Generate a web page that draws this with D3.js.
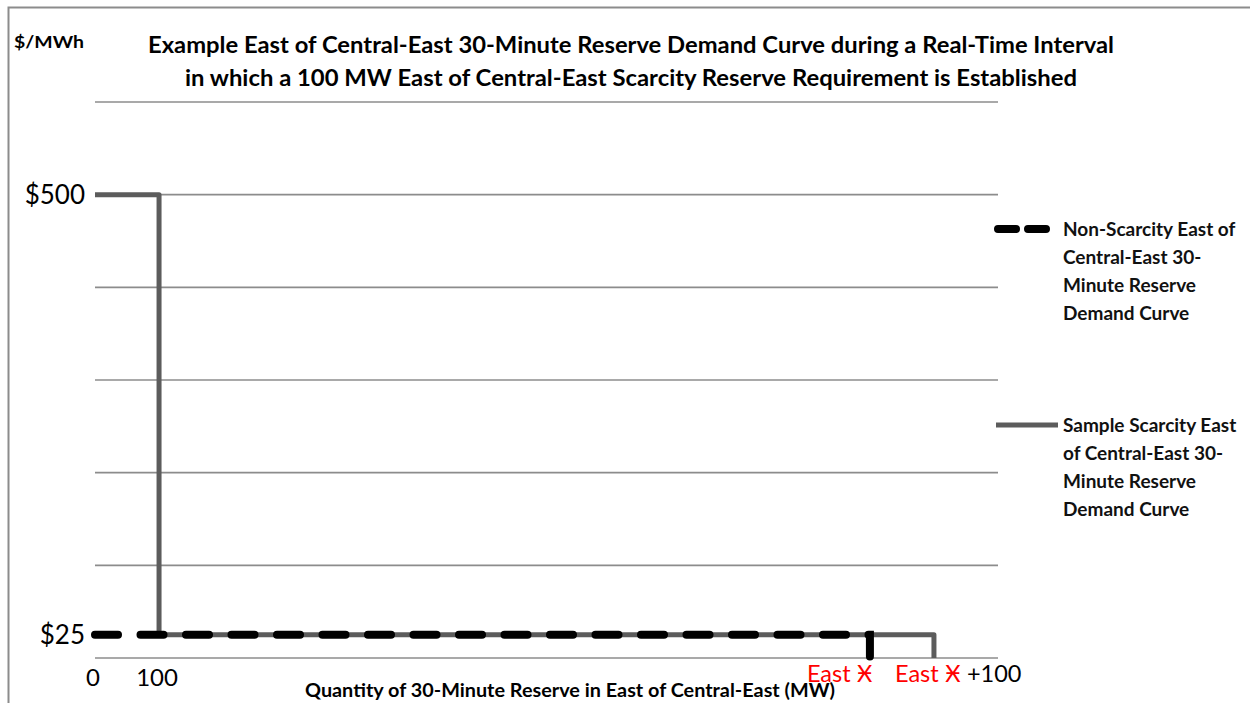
<!DOCTYPE html>
<html lang="en">
<head>
<meta charset="UTF-8">
<title>East of Central-East 30-Minute Reserve Demand Curve</title>
<script src="https://cdn.jsdelivr.net/npm/d3@7"></script>
<style>
  html, body { margin: 0; padding: 0; background: #fff; }
  svg text { font-family: Lato, "Open Sans", "DejaVu Sans", sans-serif; }
</style>
</head>
<body>
<div id="chart"></div>
<script>
// chart values
const gridValues = [0, 100, 200, 300, 400, 500, 600];
const yTickValues = [500, 25];
const yTickLabels = ["$500", "$25"];
const xTickValues = [0, 100];
const eastX = 1210; // quantity where the non-scarcity curve drops (East Ӿ)
const nonScarcityQty = [0, eastX, eastX];
const nonScarcityPrice = [25, 25, 0];
const scarcityQty = [0, 100, 100, eastX + 100, eastX + 100];
const scarcityPrice = [500, 500, 25, 25, 0];
const titleLines = [
  "Example East of Central-East 30-Minute Reserve Demand Curve during a Real-Time Interval",
  "in which a 100 MW East of Central-East  Scarcity Reserve Requirement is Established"
];
const legendNames = [
  ["Non-Scarcity East of", "Central-East 30-", "Minute Reserve", "Demand Curve"],
  ["Sample Scarcity East", "of Central-East 30-", "Minute Reserve", "Demand Curve"]
];

const width = 1250, height = 703;
const svg = d3.select("#chart").append("svg")
  .attr("width", width).attr("height", height);

// outer frame (cropped on right and bottom)
svg.append("rect")
  .attr("x", 8.5).attr("y", 7.5)
  .attr("width", 1300).attr("height", 800)
  .attr("fill", "none").attr("stroke", "#8c8c8c").attr("stroke-width", 2);

const x = d3.scaleLinear().domain([0, 1410]).range([95, 998]);
const y = d3.scaleLinear().domain([0, 600]).range([658, 102]);

// gridlines (incl. the axis line at 0)
svg.append("g").selectAll("line")
  .data(gridValues).enter().append("line")
  .attr("x1", x(0)).attr("x2", x(1410))
  .attr("y1", d => y(d)).attr("y2", d => y(d))
  .attr("stroke", "#8c8c8c").attr("stroke-width", 1.6);

// title
svg.append("g").selectAll("text")
  .data(titleLines).enter().append("text")
  .attr("x", 631).attr("y", (d, i) => 53 + i * 33)
  .attr("text-anchor", "middle")
  .attr("font-size", 23).attr("font-weight", "bold")
  .attr("textLength", (d, i) => i === 0 ? 966 : 892)
  .attr("lengthAdjust", "spacingAndGlyphs")
  .text(d => d);

svg.append("text")
  .attr("x", 14).attr("y", 48)
  .attr("font-size", 17).attr("font-weight", "bold")
  .attr("textLength", 70).attr("lengthAdjust", "spacingAndGlyphs")
  .text("$/MWh");

// y tick labels
svg.append("g").selectAll("text")
  .data(yTickValues).enter().append("text")
  .attr("x", 85).attr("y", d => y(d) + 9)
  .attr("text-anchor", "end")
  .attr("font-size", 26)
  .text((d, i) => yTickLabels[i]);

// x tick labels
svg.append("g").selectAll("text")
  .data(xTickValues).enter().append("text")
  .attr("x", d => x(d) - 2).attr("y", 686)
  .attr("text-anchor", "middle")
  .attr("font-size", 24)
  .text(d => d);

const eastLbl = svg.append("text")
  .attr("x", x(eastX) + 3).attr("y", 682)
  .attr("text-anchor", "end")
  .attr("font-size", 23.5).attr("fill", "#ff0000");
eastLbl.text("East Ӿ");

const eastLbl2 = svg.append("text")
  .attr("x", x(eastX + 100) - 39).attr("y", 682)
  .attr("font-size", 23.5);
eastLbl2.append("tspan").attr("fill", "#ff0000").text("East Ӿ ");
eastLbl2.append("tspan").attr("fill", "#000").text("+100");

// x axis title
svg.append("text")
  .attr("x", 570).attr("y", 697)
  .attr("text-anchor", "middle")
  .attr("font-size", 18).attr("font-weight", "bold")
  .attr("textLength", 530).attr("lengthAdjust", "spacingAndGlyphs")
  .text("Quantity of 30-Minute Reserve in East of Central-East (MW)");

const line = d3.line().x(d => x(d[0])).y(d => y(d[1]));

// sample scarcity curve (solid gray)
svg.append("path")
  .datum(scarcityQty.map((q, i) => [q, scarcityPrice[i]]))
  .attr("d", line)
  .attr("fill", "none").attr("stroke", "#5c5c5c")
  .attr("stroke-width", 5).attr("stroke-linejoin", "round");

// non-scarcity curve (dashed black)
svg.append("path")
  .datum(nonScarcityQty.map((q, i) => [q, nonScarcityPrice[i]]))
  .attr("d", line)
  .attr("fill", "none").attr("stroke", "#000")
  .attr("stroke-width", 8).attr("stroke-linecap", "round")
  .attr("stroke-dasharray", "23,22.5");

// legend
const legend = svg.append("g");
const legendY = [229, 425];

legend.append("line")
  .attr("x1", 998).attr("x2", 1046)
  .attr("y1", legendY[0]).attr("y2", legendY[0])
  .attr("stroke", "#000").attr("stroke-width", 8)
  .attr("stroke-linecap", "round").attr("stroke-dasharray", "18,12");

legend.append("line")
  .attr("x1", 996).attr("x2", 1058)
  .attr("y1", legendY[1]).attr("y2", legendY[1])
  .attr("stroke", "#5c5c5c").attr("stroke-width", 5);

legendNames.forEach((lines, k) => {
  legend.append("g").selectAll("text")
    .data(lines).enter().append("text")
    .attr("x", 1063).attr("y", (d, i) => legendY[k] + 7 + i * 28)
    .attr("font-size", 19).attr("font-weight", "bold")
    .attr("fill", "#111")
    .text(d => d);
});
</script>
</body>
</html>
